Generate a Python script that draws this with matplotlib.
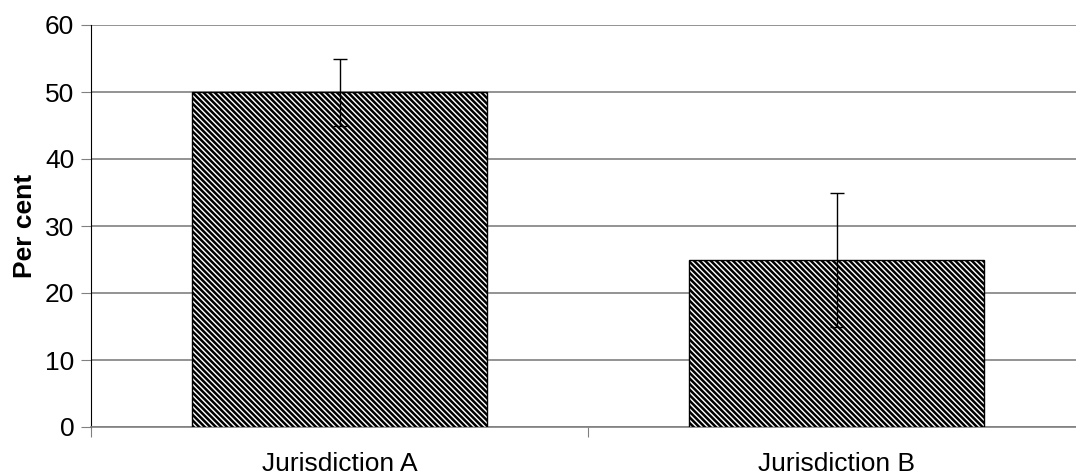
import matplotlib
matplotlib.use("Agg")
import matplotlib.pyplot as plt

# --- data ---
categories = ["Jurisdiction A", "Jurisdiction B"]
values = [50, 25]
errors = [5, 10]

plt.rcParams['font.family'] = ['Liberation Sans', 'DejaVu Sans']
plt.rcParams['hatch.linewidth'] = 1.8
plt.rcParams['hatch.color'] = 'black'

fig = plt.figure(figsize=(10.76, 4.76), dpi=100)
# chart is slightly cut off on the right in the original
ax = fig.add_axes([91 / 1076, 49 / 476, 994 / 1076, 402 / 476])

x = list(range(len(categories)))
ax.bar(x, values, width=0.595, color='white', edgecolor='black',
       linewidth=1.0, hatch='\\' * 6, zorder=3)
ax.errorbar(x, values, yerr=errors, fmt='none', ecolor='black',
            elinewidth=1.0, capsize=5, capthick=1.0, zorder=4)

ax.set_xlim(-0.5, len(categories) - 0.5)
ax.set_ylim(0, 60)
ax.set_yticks(range(0, 61, 10))
ax.yaxis.grid(True, color='#808080', linewidth=1.2, zorder=0)
ax.set_axisbelow(True)

# Excel-style category ticks between groups, labels centred
ax.set_xticks([-0.5, 0.5, 1.5])
ax.set_xticklabels([])
ax.set_xticks(x, minor=True)
ax.set_xticklabels(categories, minor=True, fontsize=19)
ax.tick_params(axis='x', which='minor', length=0, pad=18)
ax.tick_params(axis='x', which='major', length=7, color='#808080', direction='out')
ax.tick_params(axis='y', length=7, labelsize=19, direction='out', color='#808080', pad=5)

ax.set_ylabel("Per cent", fontsize=19, fontweight='bold', labelpad=6)

for side in ['top', 'right']:
    ax.spines[side].set_visible(False)
ax.spines['left'].set_color('black')
ax.spines['bottom'].set_color('#808080')
ax.spines['bottom'].set_linewidth(1.2)

plt.savefig("out.png", dpi=100)
